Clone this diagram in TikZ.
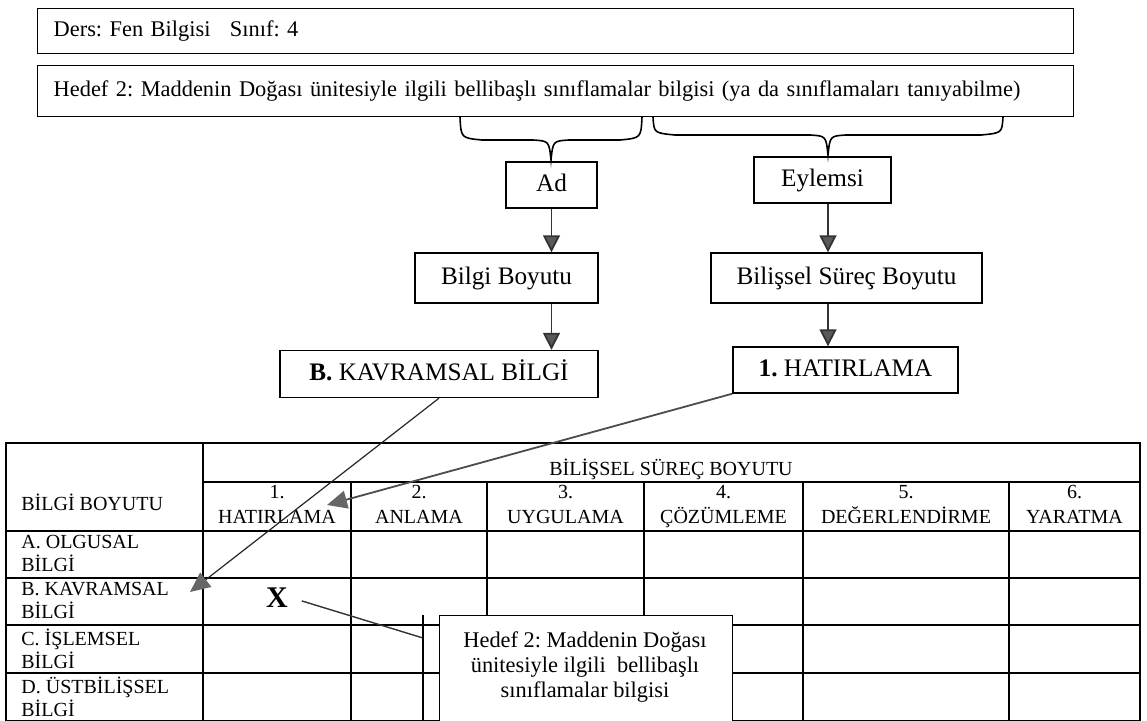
\documentclass[tikz,border=0pt]{standalone}
\usepackage{fontspec}
\setmainfont{Liberation Serif}
\usetikzlibrary{arrows.meta}
\frenchspacing
\tikzset{
  topbox/.style = {draw, line width=0.7pt, anchor=north west, inner xsep=8pt, inner ysep=0pt, text width=502pt, align=left, font=\fontsize{11.2}{13}\selectfont},
  flowbox/.style = {draw, line width=0.7pt, inner sep=0pt, minimum height=23pt, text height=8.8pt, text depth=2.6pt, font=\fontsize{12.6}{14}\selectfont},
  cell/.style = {inner sep=0pt, font=\fontsize{10}{11.5}\selectfont},
  rowlab/.style = {cell, anchor=west, align=left, text depth=2.5pt},
  collab/.style = {cell, align=center, text depth=2.5pt, font=\fontsize{10}{12.5}\selectfont},
  grid/.style = {line width=0.6pt},
  brace/.style = {line width=0.8pt},
  flowarr/.style = {draw=black!80, line width=0.9pt, -{Triangle[length=8.5pt,width=8.5pt,fill=black!65]}},
  pointer/.style = {draw=black!85, line width=0.6pt, -{Triangle[length=10pt,width=9pt,color=black!60]}}
}

\begin{document}
\begin{tikzpicture}[x=0.5pt, y=-0.5pt]
\fill[white] (0,0) rectangle (1147,721);
\useasboundingbox (0,0) rectangle (1147,721);

\node [topbox, minimum height=22.5pt] (ders) at (37,8) {Ders: Fen Bilgisi\hspace{6pt} Sınıf: 4};
\node [topbox, minimum height=25.5pt] (hedef) at (37,65) {Hedef 2: Maddenin Doğası ünitesiyle ilgili bellibaşlı sınıflamalar bilgisi (ya da sınıflamaları tanıyabilme)};

\coordinate (lb1) at (460,117);
\coordinate (lb2) at (642,117);
\coordinate (lbtip) at (551,160);
\coordinate (rb1) at (653,117);
\coordinate (rb2) at (1003,117);
\coordinate (rbtip) at (828,155);
\draw[brace] (lb1) .. controls (461,138) .. (482,140) -- (533,140) .. controls (549,141) .. (lbtip)
	.. controls (553,141) .. (569,140) -- (620,140) .. controls (641,138) .. (lb2);
\draw[brace] (rb1) .. controls (654,133) .. (675,135) -- (810,135) .. controls (826,136) .. (rbtip)
	.. controls (830,136) .. (846,135) -- (981,135) .. controls (1002,133) .. (rb2);

\node [flowbox, minimum width=45.5pt] (ad) at (551.5,185) {Ad};
\node [flowbox, minimum width=68.5pt] (eylem) at (822.5,180) {Eylemsi};
\node [flowbox, minimum width=91.5pt, minimum height=25pt] (bboyut) at (506.5,278) {Bilgi Boyutu};
\node [flowbox, minimum width=135.5pt, minimum height=25pt] (sboyut) at (846.5,278) {Bilişsel Süreç Boyutu};
\node [flowbox, minimum width=159pt, minimum height=23.5pt] (kavram) at (439,374) {\textbf{B.} KAVRAMSAL BİLGİ};
\node [flowbox, minimum width=112.5pt, minimum height=23pt] (hatir) at (845.5,370) {\textbf{1.} HATIRLAMA};

\draw[flowarr] (ad.south) -- (ad.south |- bboyut.north);
\draw[flowarr] (bboyut.south -| ad.south) -- (kavram.north -| ad.south);
\draw[flowarr] (eylem.south) ++(5.5,0) coordinate (eylbot) -- (eylbot |- sboyut.north);
\draw[flowarr] (sboyut.south -| eylbot) -- (eylbot |- hatir.north);

\draw[grid] (6,443) rectangle (1140,721);
\draw[grid] (203,443) -- (203,721);
\draw[grid] (203,482) -- (1140,482);
\draw[grid] (6,531) -- (1140,531) (6,578) -- (1140,578) (6,625) -- (1140,625) (6,673) -- (1140,673);
\draw[grid] (351,482) -- (351,721) (487,482) -- (487,721) (644,482) -- (644,721)
	(803,482) -- (803,721) (1009,482) -- (1009,721);

\node [cell] (bsb) at (671,469) {BİLİŞSEL SÜREÇ BOYUTU};
\node [rowlab] (bb) at (21,505) {BİLGİ BOYUTU};
\node [collab] (c1) at (277,507) {1.\\HATIRLAMA};
\node [collab] (c2) at (419,507) {2.\\ANLAMA};
\node [collab] (c3) at (565.5,507) {3.\\UYGULAMA};
\node [collab] (c4) at (723.5,507) {4.\\ÇÖZÜMLEME};
\node [collab] (c5) at (906,507) {5.\\DEĞERLENDİRME};
\node [collab] (c6) at (1074.5,507) {6.\\YARATMA};
\node [rowlab] (ra) at (21,556) {A. OLGUSAL\\BİLGİ};
\node [rowlab] (rb) at (21,603) {B. KAVRAMSAL\\BİLGİ};
\node [rowlab] (rc) at (21,651) {C. İŞLEMSEL\\BİLGİ};
\node [rowlab] (rd) at (21,699) {D. ÜSTBİLİŞSEL\\BİLGİ};

\node [font=\fontsize{15}{15}\selectfont\bfseries, inner sep=2pt] (xmark) at (277,598) {X};

\coordinate (kavtip) at (190,592);
\coordinate (hattip) at (327,505);
\draw[pointer] (kavram.south) -- (kavtip);
\draw[pointer, line width=0.9pt, draw=black!70] (hatir.south west) -- (hattip);

\node [draw, line width=0.7pt, fill=white, anchor=north west, minimum width=146.5pt, minimum height=53pt, inner sep=0pt] (callbox) at (439,615) {};
\node [align=center, inner sep=0pt, font=\fontsize{11.2}{12.5}\selectfont] (calltext) at (585,667) {Hedef 2: Maddenin Doğası\\ünitesiyle ilgili\ \ bellibaşlı\\sınıflamalar bilgisi};
\coordinate (cbend) at (423,638);
\coordinate (ctop) at (423,615);
\coordinate (cbot) at (423,721);
\draw[line width=0.7pt, draw=black!80, shorten <=5pt] (xmark.east) -- (cbend);
\draw[line width=0.7pt] (ctop) -- (cbot);
\end{tikzpicture}
\end{document}
